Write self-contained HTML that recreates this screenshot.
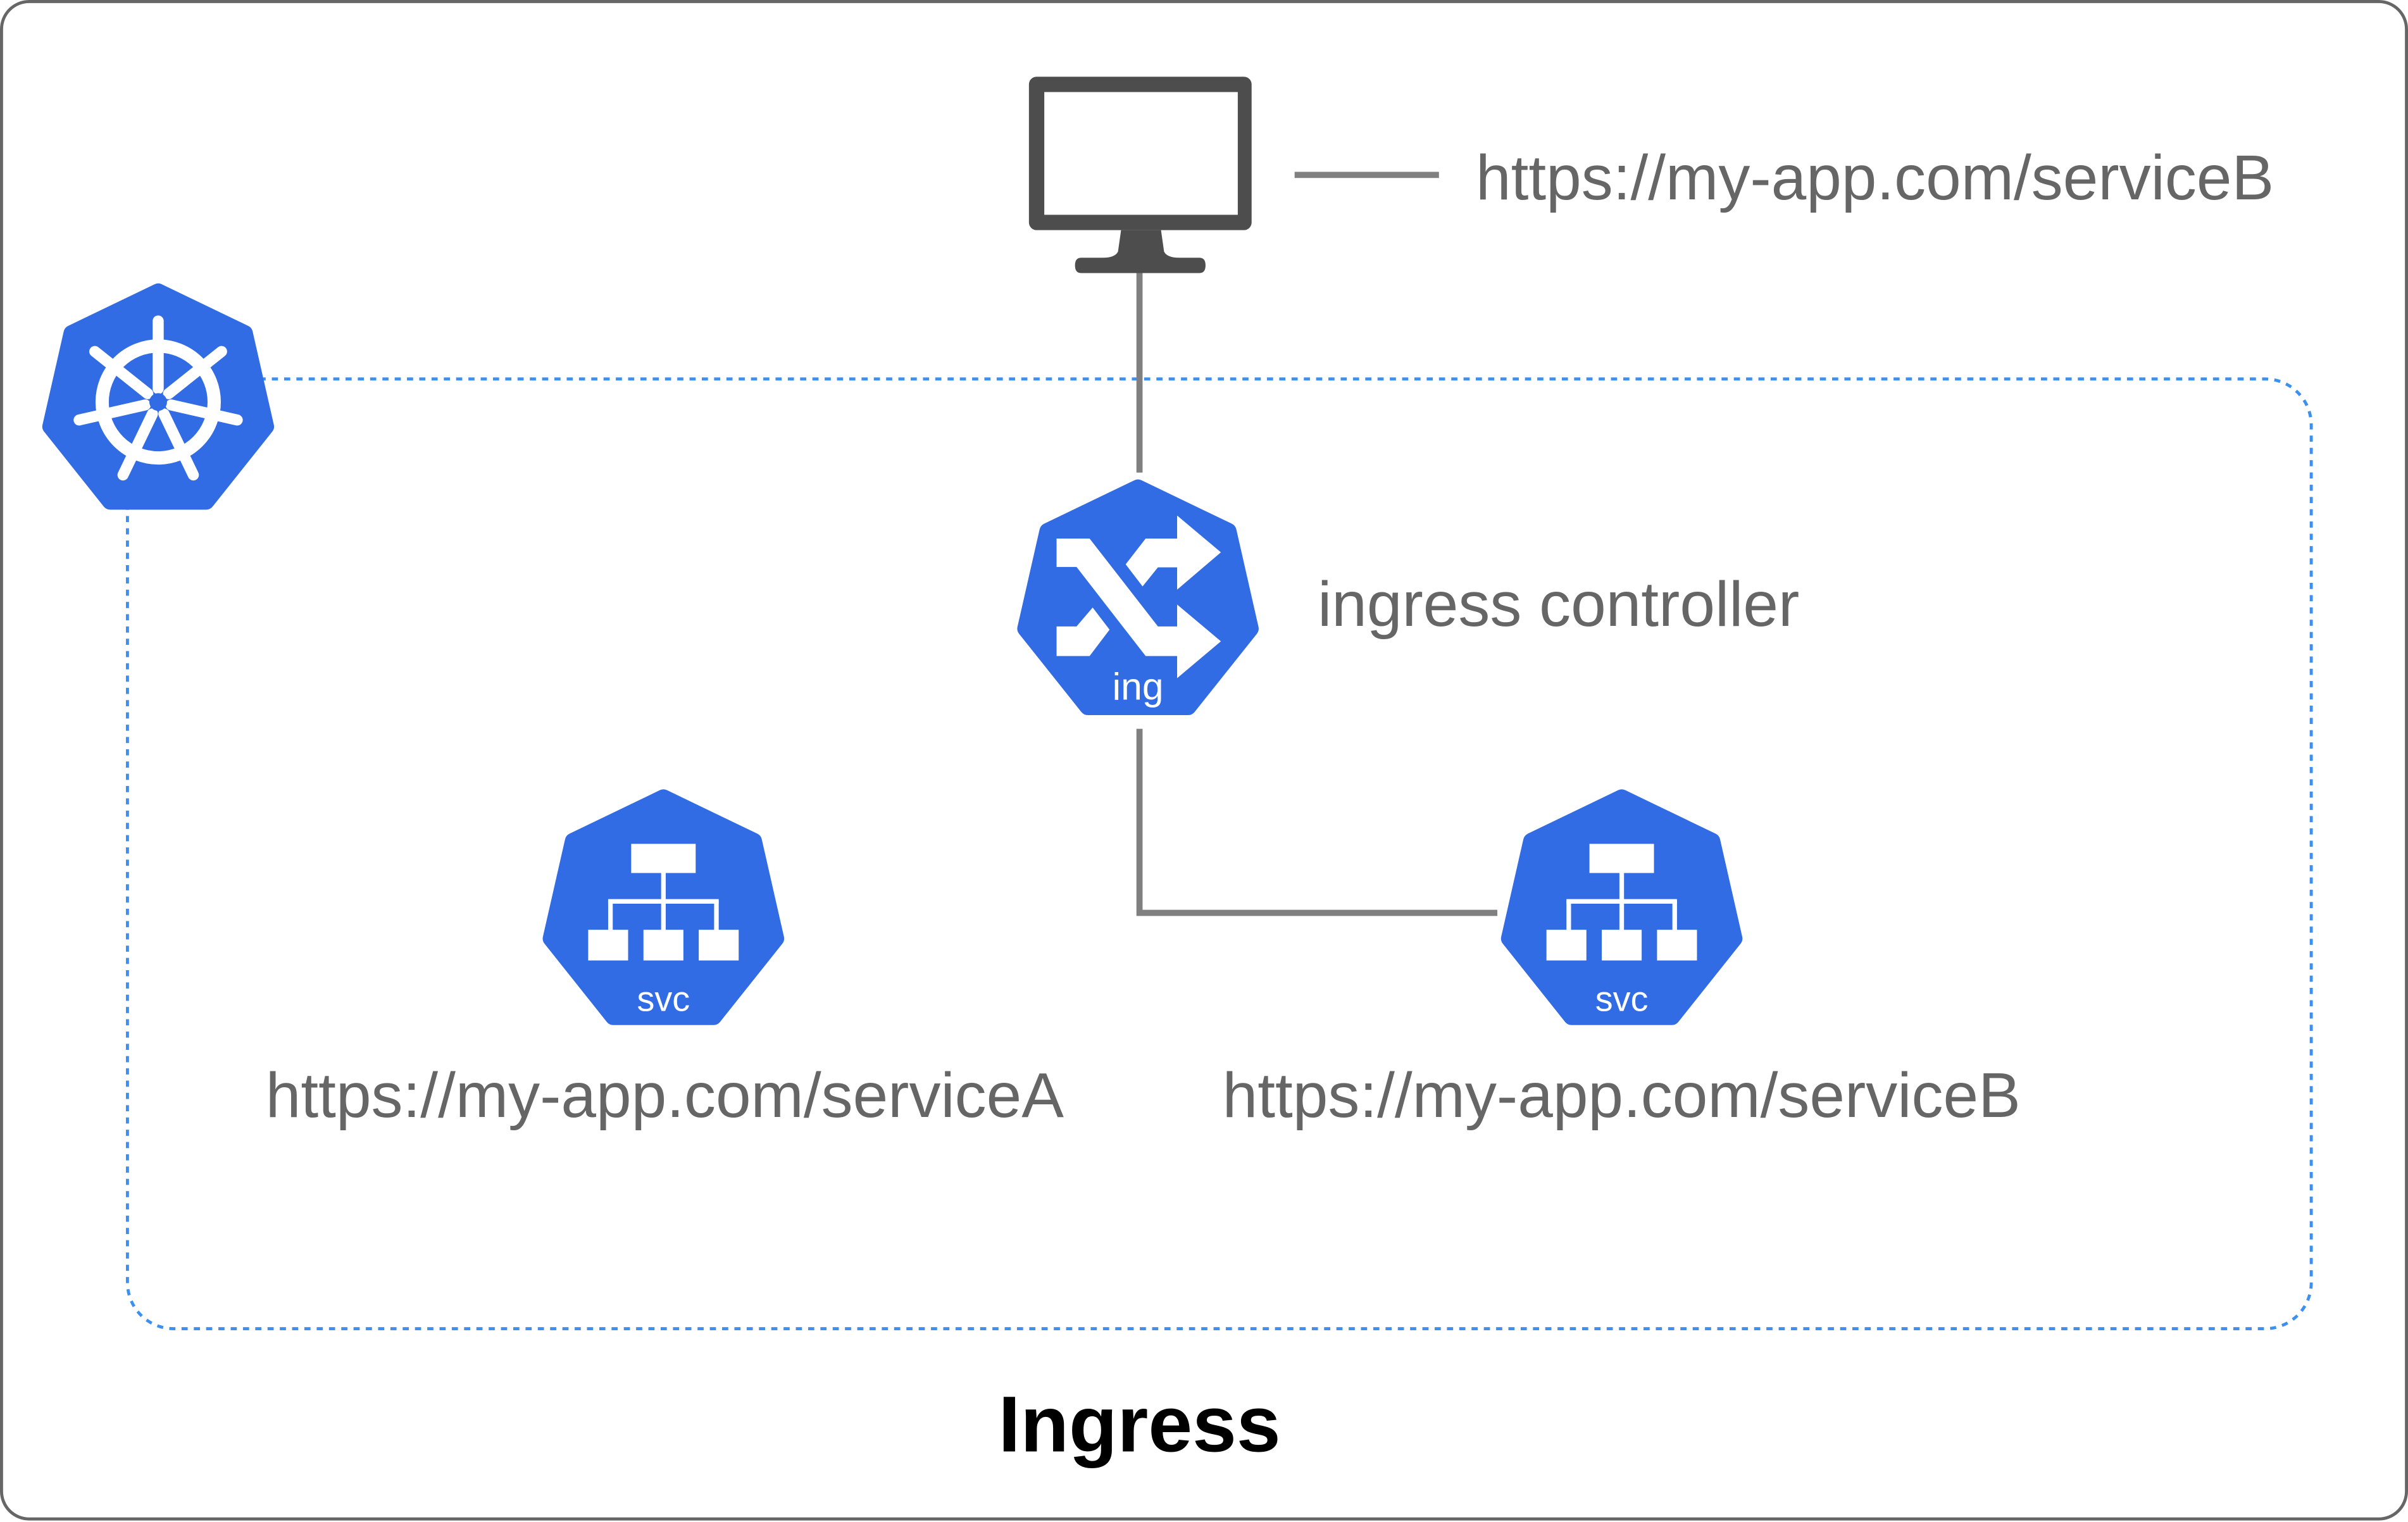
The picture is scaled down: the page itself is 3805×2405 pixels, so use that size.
<!DOCTYPE html>
<html><head><meta charset="utf-8"><style>
html,body{margin:0;padding:0;background:#fff;}
svg{display:block;}
</style></head><body>
<svg width="3805" height="2405" viewBox="0 0 1568 992" preserveAspectRatio="none" xmlns="http://www.w3.org/2000/svg">
<defs>
<polygon id="hept" points="0,-75 58.7,-46.7 73.1,16.7 32.6,67.6 -32.6,67.6 -73.1,16.7 -58.7,-46.7" fill="#326ce5" stroke="#326ce5" stroke-width="11" stroke-linejoin="round"/>
<g id="svcg" fill="#fff">
<rect x="-21" y="-45" width="42" height="19"/>
<rect x="-1.5" y="-26" width="3" height="18"/>
<rect x="-36" y="-9" width="72" height="3"/>
<rect x="-36" y="-8" width="3" height="20"/>
<rect x="-1.5" y="-8" width="3" height="20"/>
<rect x="33" y="-8" width="3" height="20"/>
<rect x="-49" y="11" width="26" height="20"/>
<rect x="-13" y="11" width="26" height="20"/>
<rect x="23" y="11" width="26" height="20"/>
<text x="0" y="64" text-anchor="middle" font-family="Liberation Sans, sans-serif" font-size="23">svc</text>
</g>
</defs>
<rect x="1" y="1" width="1566" height="989" rx="18" fill="#fff" stroke="#666" stroke-width="2"/>
<rect x="83" y="247" width="1422" height="619" rx="30" fill="none" stroke="#3d8ff0" stroke-width="2" stroke-dasharray="4,4"/>

<rect x="670" y="50" width="145" height="100" rx="5" fill="#4d4d4d"/>
<rect x="680" y="60" width="126" height="80" fill="#fff"/>
<path d="M730,150 L756,150 L758,164 Q760,168 768,168 L781,168 Q785,168 785,173 Q785,178 781,178 L704,178 Q700,178 700,173 Q700,168 704,168 L718,168 Q726,168 728,164 Z" fill="#4d4d4d"/>
<line x1="742" y1="178" x2="742" y2="308" stroke="#808080" stroke-width="4"/>
<polyline points="742,475 742,595 975,595" fill="none" stroke="#808080" stroke-width="4"/>
<line x1="843" y1="114" x2="937" y2="114" stroke="#808080" stroke-width="4"/>

<g font-family="Liberation Sans, sans-serif" fill="#666" font-size="41.2">
<text x="961" y="130">https://my-app.com/serviceB</text>
<text x="858" y="408">ingress controller</text>
<text x="173" y="728">https://my-app.com/serviceA</text>
<text x="796" y="728">https://my-app.com/serviceB</text>
</g>
<text x="742" y="946" text-anchor="middle" font-family="Liberation Sans, sans-serif" font-weight="bold" font-size="51.7" fill="#000">Ingress</text>

<g transform="translate(103,262) scale(0.96)">
<use href="#hept"/>
<g stroke="#fff" fill="none" stroke-linecap="round">
<circle r="38" stroke-width="9"/>
<g stroke-width="7.5">
<line x1="0" y1="-9" x2="0" y2="-55"/>
<line x1="0" y1="-9" x2="0" y2="-55" transform="rotate(51.43)"/>
<line x1="0" y1="-9" x2="0" y2="-55" transform="rotate(102.86)"/>
<line x1="0" y1="-9" x2="0" y2="-55" transform="rotate(154.29)"/>
<line x1="0" y1="-9" x2="0" y2="-55" transform="rotate(205.71)"/>
<line x1="0" y1="-9" x2="0" y2="-55" transform="rotate(257.14)"/>
<line x1="0" y1="-9" x2="0" y2="-55" transform="rotate(308.57)"/>
</g>
</g>
<circle r="6" fill="#326ce5"/>
</g>

<g transform="translate(741,393)"><use href="#hept"/></g>
<g fill="#fff">
<polygon points="688,351 709.5,351 754,408.3 766.5,408.3 766.5,394 795,418 766.5,442 766.5,427.6 746,427.6 701,369.5 688,369.5"/>
<polygon points="746,351 766.5,351 766.5,336 795,360 766.5,384.3 766.5,369.8 754,369.8 744,382.2 733,367.8"/>
<polygon points="688,408.3 701,408.3 711.5,396 722.5,410.4 709.5,427.6 688,427.6"/>
</g>
<text x="741" y="456" text-anchor="middle" font-family="Liberation Sans, sans-serif" font-size="25" fill="#fff">ing</text>

<g transform="translate(432,595)"><use href="#hept"/><use href="#svcg"/></g>
<g transform="translate(1056,595)"><use href="#hept"/><use href="#svcg"/></g>
</svg>
</body></html>
